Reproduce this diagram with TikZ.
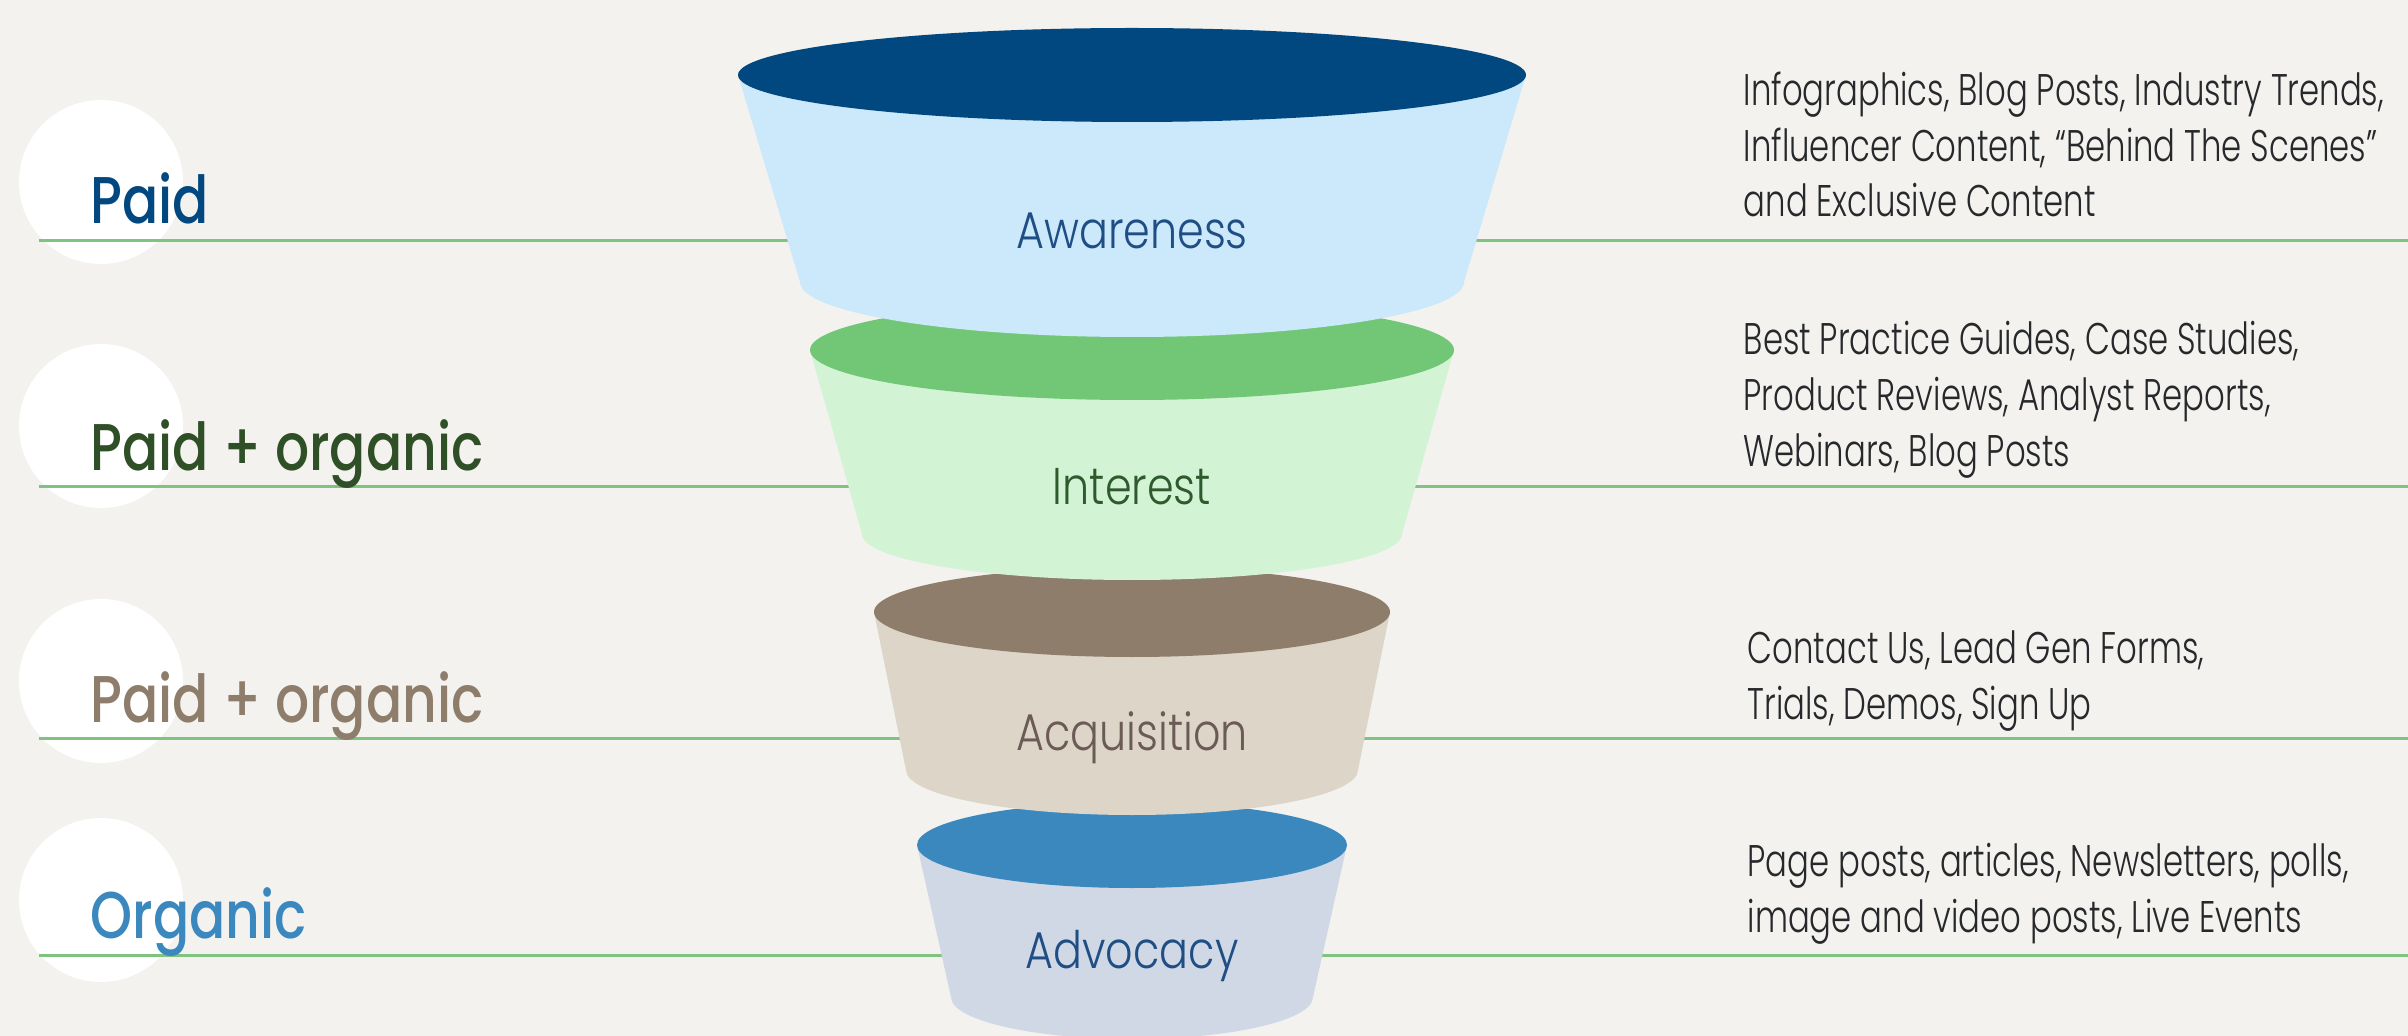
\documentclass[tikz,border=0pt]{standalone}
\usepackage{fontspec}
\setmainfont{Poppins}
\newfontfamily\labelfont{Poppins Medium}[FakeStretch=0.81]
\newfontfamily\stagefont{Poppins Light}[FakeStretch=0.83]
\newfontfamily\listfont{Poppins Light}[FakeStretch=0.73]
\usetikzlibrary{positioning}
\definecolor{bg}{RGB}{243,242,238}
\definecolor{rulegreen}{RGB}{128,194,128}
\definecolor{ink}{RGB}{38,40,43}
\definecolor{navy}{RGB}{0,72,127}
\definecolor{navytext}{RGB}{31,78,133}
\definecolor{leaf}{RGB}{114,199,119}
\definecolor{leafbody}{RGB}{211,243,213}
\definecolor{leaftext}{RGB}{47,90,45}
\definecolor{olive}{RGB}{47,80,38}
\definecolor{taupe}{RGB}{142,125,107}
\definecolor{taupebody}{RGB}{221,213,200}
\definecolor{taupetext}{RGB}{107,90,85}
\definecolor{sky}{RGB}{58,136,190}
\definecolor{skybody}{RGB}{208,216,229}
\definecolor{icebody}{RGB}{204,233,251}

\tikzset{
    divider/.style={draw=rulegreen, line width=0.3mm},
    side label/.style={anchor=base west, inner sep=0pt, font=\labelfont\fontsize{18.8}{20}\selectfont},
    stage label/.style={anchor=base, inner sep=0pt, font=\stagefont\fontsize{14.7}{16}\selectfont},
    list text/.style={anchor=base west, inner sep=0pt, align=left, text=ink,
        font=\listfont\fontsize{12.6}{15.8}\selectfont},
}

\begin{document}
\begin{tikzpicture}[x=0.1mm, y=-0.1mm]
    % Page
    \fill[bg] (0,0) rectangle (2408,1036);
    \useasboundingbox (0,0) rectangle (2408,1036);

    % White discs behind the channel labels
    \foreach \y in {182, 426, 681, 900} {
        \fill[white] (101,\y) circle [radius=82];
    }

    % Stage dividers
    \foreach \y in {241, 487, 738, 955} {
        \draw[divider] (39,\y) -- (2408,\y);
    }

    % Channel labels
    \node[side label, text=navy] (paid) at (90,224) {Paid};
    \node[side label, text=olive] (paidorg) at (90,470) {Paid + organic};
    \node[side label, text=taupe] (paidorgb) at (90,722) {Paid + organic};
    \node[side label, text=sky] (organic) at (90,938) {Organic};

    % Funnel, lowest stage first so each upper rim covers the one below
    \foreach \yt/\rt/\ryt/\yb/\rb/\ryb/\rim/\body in {
        845/215/43/997/181/42/sky/skybody,
        612/258/45/770/226/45/taupe/taupebody,
        350/322/50/534/270/46/leaf/leafbody,
        75/394/47/282/332/55/navy/icebody} {
        \fill[\body] (1132-\rt,\yt) -- (1132-\rb,\yb)
            arc[start angle=180, end angle=0, x radius=\rb, y radius=\ryb]
            -- (1132+\rt,\yt) -- cycle;
        \fill[\rim] (1132,\yt) ellipse [x radius=\rt, y radius=\ryt];
    }

    % Stage names
    \node[stage label, text=navytext] (awareness) at (1132,249) {Awareness};
    \node[stage label, text=leaftext] (interest) at (1132,505) {Interest};
    \node[stage label, text=taupetext] (acquisition) at (1132,750) {Acquisition};
    \node[stage label, text=navytext] (advocacy) at (1132,968) {Advocacy};

    % Content for each stage (anchored on the last line)
    \node[list text] (awarenesslist) at (1743,217)
        {Infographics, Blog Posts, Industry Trends,\\Influencer Content, “Behind The Scenes”\\and Exclusive Content};
    \node[list text] (interestlist) at (1743,466)
        {Best Practice Guides, Case Studies,\\Product Reviews, Analyst Reports,\\Webinars, Blog Posts};
    \node[list text] (acquisitionlist) at (1747,719)
        {Contact Us, Lead Gen Forms,\\Trials, Demos, Sign Up};
    \node[list text] (advocacylist) at (1747,932)
        {Page posts, articles, Newsletters, polls,\\image and video posts, Live Events};
\end{tikzpicture}
\end{document}
